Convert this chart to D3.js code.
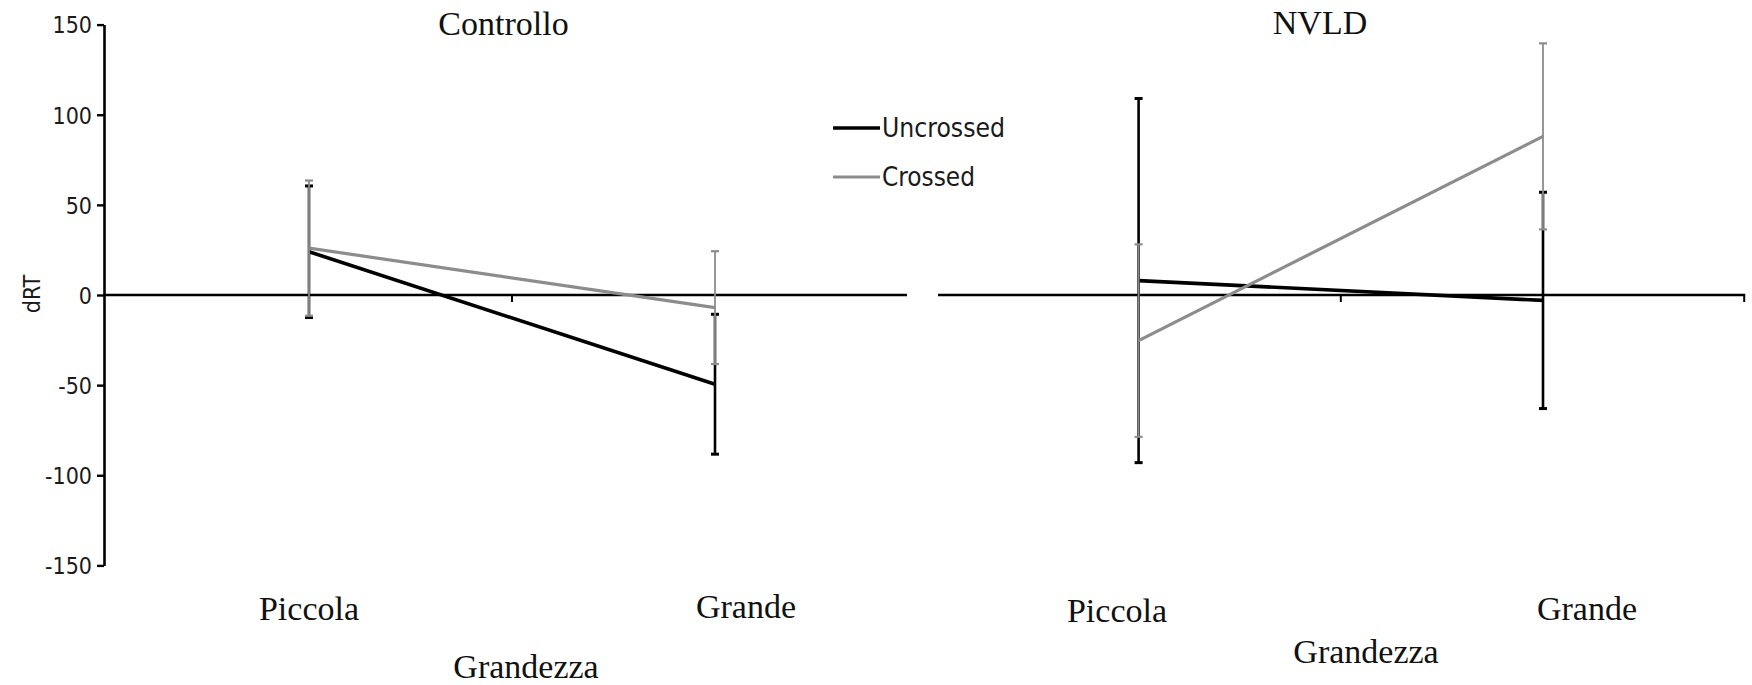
<!DOCTYPE html>
<html>
<head>
<meta charset="utf-8">
<script src="https://cdn.jsdelivr.net/npm/d3@7"></script>
<style>
  html, body { margin: 0; padding: 0; background: #fff; }
  svg { display: block; }
</style>
</head>
<body>
<svg id="chart" width="1752" height="685"></svg>
<script>
// ---- data ----
const categories = ["Piccola", "Grande"];
const panels = ["Controllo", "NVLD"];
const seriesNames = ["Uncrossed", "Crossed"];
const yTicks = [150, 100, 50, 0, -50, -100, -150];

// Controllo
const controlloUncrossed = [24, -49.5];
const controlloUncrossedErr = [36.5, 38.8];
const controlloCrossed = [26, -7];
const controlloCrossedErr = [37.5, 31.3];
// NVLD
const nvldUncrossed = [8, -3];
const nvldUncrossedErr = [101, 60];
const nvldCrossed = [-25.3, 88];
const nvldCrossedErr = [53.4, 51.6];

const axisTitle = "Grandezza";
const yTitle = "dRT";

// ---- layout ----
const svg = d3.select("#chart");
const y = d3.scaleLinear().domain([-150, 150]).range([565.4, 24.6]);

const colors = { Uncrossed: "#000000", Crossed: "#8c8c8c" };
const lineW = { Uncrossed: 3.6, Crossed: 3.2 };
const errW = { Uncrossed: 2.6, Crossed: 1.8 };

const serifFont = "'Liberation Serif', 'Times New Roman', serif";
const sansFont = "'Liberation Sans Narrow', 'DejaVu Sans Condensed', 'Arial Narrow', sans-serif";

const panelDefs = [
  { name: panels[0], range: [106, 918], lineEnd: 907, lineStart: 104,
    data: { Uncrossed: [controlloUncrossed, controlloUncrossedErr], Crossed: [controlloCrossed, controlloCrossedErr] },
    titleX: 503.5, titleY: 35,
    labelPos: [[309, 620], [746, 618]], axisTitlePos: [526, 678] },
  { name: panels[1], range: [936.4, 1745.2], lineEnd: 1745.2, lineStart: 938,
    data: { Uncrossed: [nvldUncrossed, nvldUncrossedErr], Crossed: [nvldCrossed, nvldCrossedErr] },
    titleX: 1320, titleY: 34,
    labelPos: [[1117, 622], [1587, 620]], axisTitlePos: [1366, 663] }
];

// ---- left y axis ----
const yAxisG = svg.append("g").attr("transform", "translate(104,0)");
yAxisG.call(d3.axisLeft(y).tickValues(yTicks).tickSize(7).tickSizeOuter(0).tickFormat(d => String(d)));
yAxisG.select(".domain").attr("stroke", "#000").attr("stroke-width", 2.6);
yAxisG.selectAll(".tick line").attr("stroke", "#000").attr("stroke-width", 2.4);
yAxisG.selectAll(".tick text")
  .attr("font-family", sansFont).attr("font-size", 23).attr("fill", "#1a1a1a")
  .attr("x", -12).attr("dy", "0.36em");

svg.append("text")
  .attr("transform", `translate(40,294) rotate(-90)`)
  .attr("text-anchor", "middle")
  .attr("font-family", sansFont).attr("font-size", 23).attr("fill", "#1a1a1a")
  .text(yTitle);

panelDefs.forEach(p => {
  const x = d3.scaleBand().domain(categories).range(p.range).padding(0);
  const cx = c => x(c) + x.bandwidth() / 2;
  const g = svg.append("g");

  // zero (category) axis line
  g.append("line")
    .attr("x1", p.lineStart).attr("x2", p.lineEnd)
    .attr("y1", y(0)).attr("y2", y(0))
    .attr("stroke", "#000").attr("stroke-width", 2.6);
  // tick marks between / after categories
  const tickXs = [x(categories[1])];
  if (p.range[1] <= p.lineEnd + 0.5) tickXs.push(p.range[1] - 1);
  g.selectAll("line.ctick").data(tickXs).join("line")
    .attr("class", "ctick")
    .attr("x1", d => d).attr("x2", d => d)
    .attr("y1", y(0)).attr("y2", y(0) + 7)
    .attr("stroke", "#000").attr("stroke-width", 2);

  seriesNames.forEach(s => {
    const [vals, errs] = p.data[s];
    const pts = categories.map((c, i) => ({ c, v: vals[i], e: errs[i] }));
    // error bars
    const eb = g.append("g");
    eb.selectAll("line.v").data(pts).join("line")
      .attr("x1", d => cx(d.c)).attr("x2", d => cx(d.c))
      .attr("y1", d => y(d.v + d.e)).attr("y2", d => y(d.v - d.e))
      .attr("stroke", colors[s]).attr("stroke-width", errW[s]);
    const caps = [];
    pts.forEach(d => { caps.push({ c: d.c, v: d.v + d.e }); caps.push({ c: d.c, v: d.v - d.e }); });
    eb.selectAll("line.cap").data(caps).join("line")
      .attr("x1", d => cx(d.c) - 4).attr("x2", d => cx(d.c) + 4)
      .attr("y1", d => y(d.v)).attr("y2", d => y(d.v))
      .attr("stroke", colors[s]).attr("stroke-width", s === "Uncrossed" ? 3 : 2.2);
    // line
    g.append("path")
      .datum(pts)
      .attr("d", d3.line().x(d => cx(d.c)).y(d => y(d.v)))
      .attr("fill", "none").attr("stroke", colors[s]).attr("stroke-width", lineW[s]);
  });

  // title
  svg.append("text")
    .attr("x", p.titleX).attr("y", p.titleY)
    .attr("text-anchor", "middle")
    .attr("font-family", serifFont).attr("font-size", 34).attr("fill", "#111")
    .text(p.name);
  // category labels
  categories.forEach((c, i) => {
    svg.append("text")
      .attr("x", p.labelPos[i][0]).attr("y", p.labelPos[i][1])
      .attr("text-anchor", "middle")
      .attr("font-family", serifFont).attr("font-size", 34).attr("fill", "#111")
      .text(c);
  });
  svg.append("text")
    .attr("x", p.axisTitlePos[0]).attr("y", p.axisTitlePos[1])
    .attr("text-anchor", "middle")
    .attr("font-family", serifFont).attr("font-size", 34).attr("fill", "#111")
    .text(axisTitle);
});

// ---- legend ----
const legend = svg.append("g");
const legendY = [128, 177];
const legendTextLen = [123, 93];
seriesNames.forEach((s, i) => {
  legend.append("line")
    .attr("x1", 833).attr("x2", 880)
    .attr("y1", legendY[i]).attr("y2", legendY[i])
    .attr("stroke", colors[s]).attr("stroke-width", lineW[s]);
  legend.append("text")
    .attr("x", 882).attr("y", legendY[i]).attr("dy", "0.35em")
    .attr("font-family", sansFont).attr("font-size", 27).attr("fill", "#1a1a1a")
    .attr("textLength", legendTextLen[i]).attr("lengthAdjust", "spacingAndGlyphs")
    .text(s);
});
</script>
</body>
</html>
